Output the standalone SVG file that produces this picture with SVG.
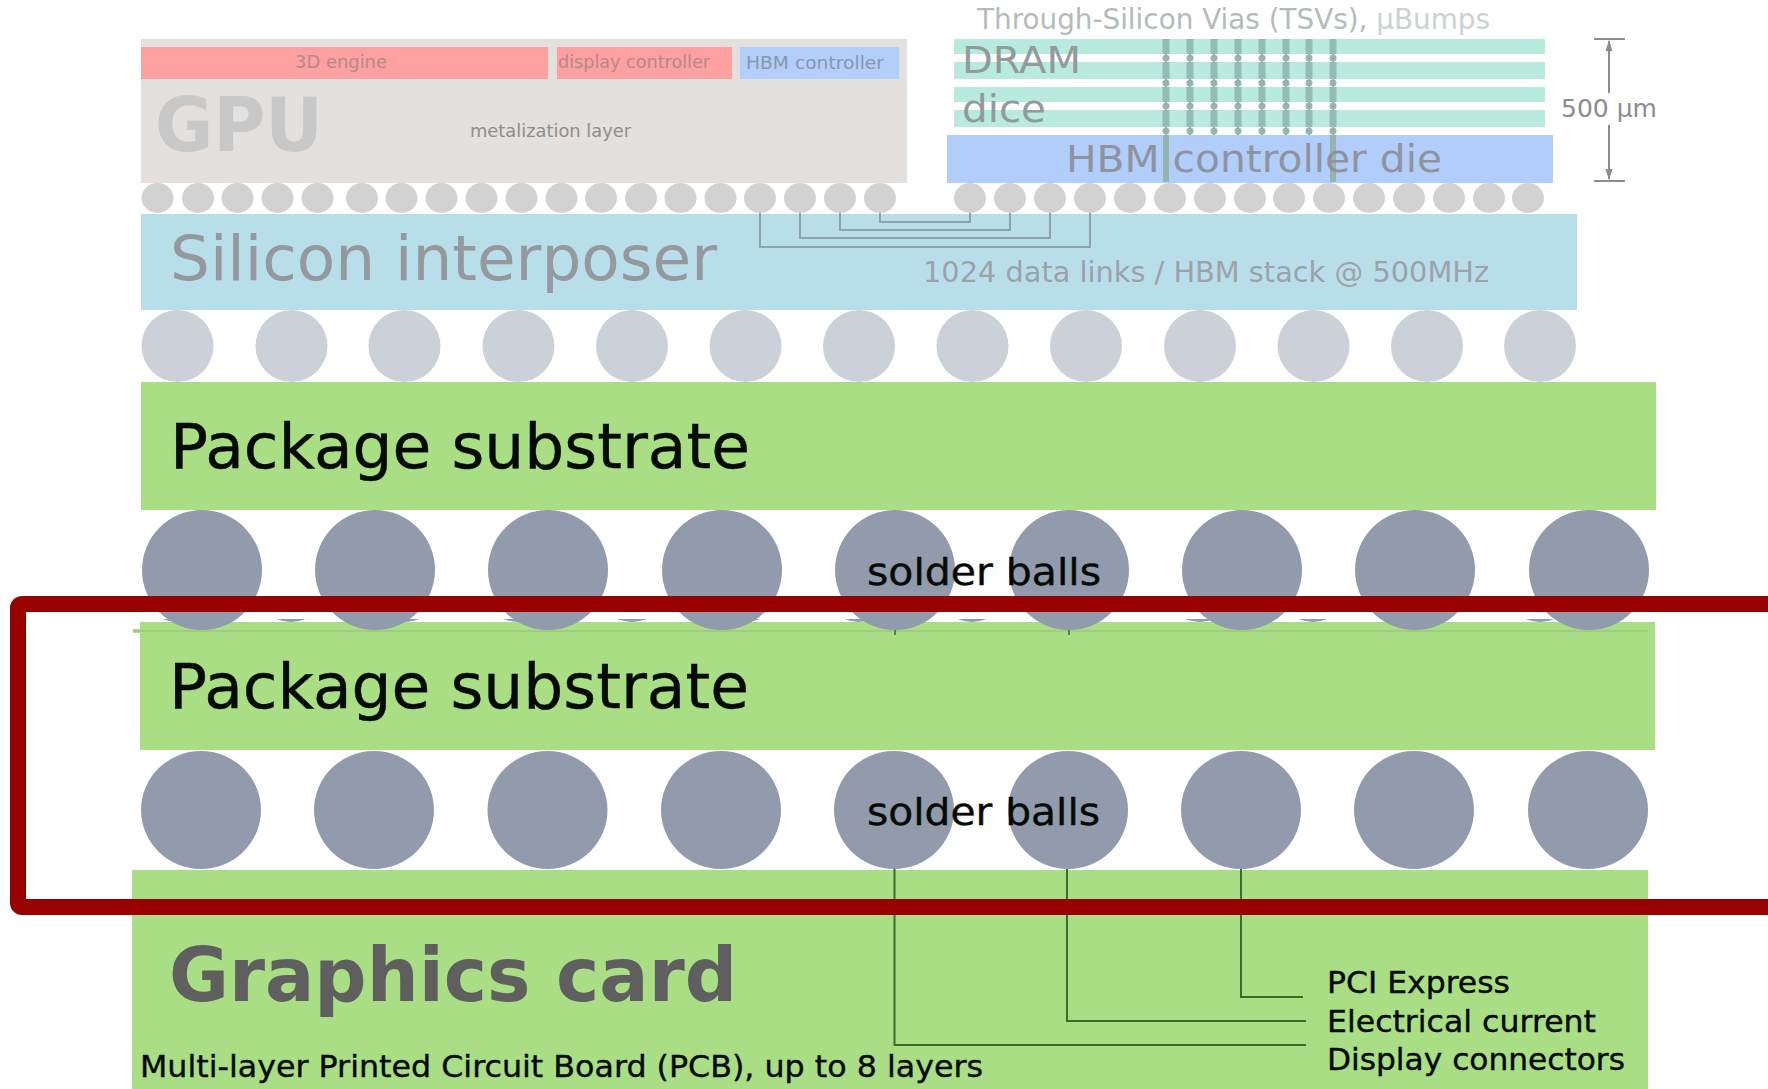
<svg xmlns="http://www.w3.org/2000/svg" xmlns:xlink="http://www.w3.org/1999/xlink" width="1768" height="1089" viewBox="0 0 1768 1089">
<style>
text{font-family:"DejaVu Sans","Liberation Sans",sans-serif;}
.sm{fill:#d2d2d2}.md{fill:#ccd0d8}.lg{fill:#919bac}.sl{fill:#919bac}
.grn{fill:#aade85}
.strip{fill:#b8eadd}
.w1{fill:none;stroke:#8fa3ad;stroke-width:2}
.w2{fill:none;stroke:#3f6a2c;stroke-width:2}
.dim{fill:none;stroke:#8c8c8c;stroke-width:2}
.blk{fill:#050a05;stroke:#050a05;stroke-width:.4}
</style>
<defs>
<clipPath id="sliver"><rect x="130" y="619" width="1530" height="3"/></clipPath>
<g id="tsv-col">
<path d="M0 39V135" fill="none" stroke="#93bdb4" stroke-width="2"/>
<path d="M0 39V54M0 62V79M0 87V102M0 110V127" fill="none" stroke="#93bdb4" stroke-width="7"/>
<path d="M0 58h.01M0 83h.01M0 106h.01M0 131h.01" fill="none" stroke="#93b5ae" stroke-width="7" stroke-linecap="round"/>
</g>
</defs>
<rect width="1768" height="1089" fill="#fff"/>

<g id="gpu">
<rect x="141" y="39" width="766" height="144" fill="#e4e0dd"/>
<rect x="141" y="47" width="407" height="32" fill="#fea0a0"/>
<rect x="557" y="47" width="175" height="32" fill="#fea0a0"/>
<rect x="740" y="47" width="159" height="32" fill="#b1cffa"/>
<text x="295" y="68" font-size="18" fill="#b28a8c" textLength="92" lengthAdjust="spacingAndGlyphs">3D engine</text>
<text x="558" y="68" font-size="18" fill="#b28a8c" textLength="152" lengthAdjust="spacingAndGlyphs">display controller</text>
<text x="746" y="69" font-size="18" fill="#8a96ac" textLength="138" lengthAdjust="spacingAndGlyphs">HBM controller</text>
<text x="155" y="151" font-size="75" font-weight="bold" fill="#c8c8c8" textLength="168" lengthAdjust="spacingAndGlyphs">GPU</text>
<text x="470" y="137" font-size="18" fill="#8e8e8e" textLength="161" lengthAdjust="spacingAndGlyphs">metalization layer</text>
</g>

<g id="microbumps">
<ellipse class="sm" cx="157.500" cy="198" rx="16" ry="15"/><ellipse class="sm" cx="198" cy="198" rx="16" ry="15"/><ellipse class="sm" cx="237.500" cy="198" rx="16" ry="15"/><ellipse class="sm" cx="277.500" cy="198" rx="16" ry="15"/><ellipse class="sm" cx="317.500" cy="198" rx="16" ry="15"/><ellipse class="sm" cx="362" cy="198" rx="16" ry="15"/><ellipse class="sm" cx="401.500" cy="198" rx="16" ry="15"/><ellipse class="sm" cx="441.500" cy="198" rx="16" ry="15"/><ellipse class="sm" cx="481.500" cy="198" rx="16" ry="15"/><ellipse class="sm" cx="521.500" cy="198" rx="16" ry="15"/><ellipse class="sm" cx="561.500" cy="198" rx="16" ry="15"/><ellipse class="sm" cx="601" cy="198" rx="16" ry="15"/><ellipse class="sm" cx="641" cy="198" rx="16" ry="15"/><ellipse class="sm" cx="680.500" cy="198" rx="16" ry="15"/><ellipse class="sm" cx="720.500" cy="198" rx="16" ry="15"/><ellipse class="sm" cx="760" cy="198" rx="16" ry="15"/><ellipse class="sm" cx="800" cy="198" rx="16" ry="15"/><ellipse class="sm" cx="840" cy="198" rx="16" ry="15"/><ellipse class="sm" cx="880" cy="198" rx="16" ry="15"/>
<ellipse class="sm" cx="970" cy="198" rx="16" ry="15"/><ellipse class="sm" cx="1010" cy="198" rx="16" ry="15"/><ellipse class="sm" cx="1050" cy="198" rx="16" ry="15"/><ellipse class="sm" cx="1090" cy="198" rx="16" ry="15"/><ellipse class="sm" cx="1130" cy="198" rx="16" ry="15"/><ellipse class="sm" cx="1170" cy="198" rx="16" ry="15"/><ellipse class="sm" cx="1210" cy="198" rx="16" ry="15"/><ellipse class="sm" cx="1250" cy="198" rx="16" ry="15"/><ellipse class="sm" cx="1289" cy="198" rx="16" ry="15"/><ellipse class="sm" cx="1329" cy="198" rx="16" ry="15"/><ellipse class="sm" cx="1369" cy="198" rx="16" ry="15"/><ellipse class="sm" cx="1409" cy="198" rx="16" ry="15"/><ellipse class="sm" cx="1449" cy="198" rx="16" ry="15"/><ellipse class="sm" cx="1489" cy="198" rx="16" ry="15"/><ellipse class="sm" cx="1528" cy="198" rx="16" ry="15"/>
</g>

<g id="hbm-stack">
<rect class="strip" x="954" y="39" width="591" height="15"/>
<rect class="strip" x="954" y="62" width="591" height="17"/>
<rect class="strip" x="954" y="87" width="591" height="15"/>
<rect class="strip" x="954" y="110" width="591" height="17"/>
<rect x="947" y="135" width="606" height="48" fill="#b1cdfa"/>
<use xlink:href="#tsv-col" x="1166"/><use xlink:href="#tsv-col" x="1190"/><use xlink:href="#tsv-col" x="1214"/><use xlink:href="#tsv-col" x="1238"/><use xlink:href="#tsv-col" x="1262"/><use xlink:href="#tsv-col" x="1286"/><use xlink:href="#tsv-col" x="1309"/><use xlink:href="#tsv-col" x="1333"/>
<path d="M1166 135V182M1333 135V182" fill="none" stroke="#93b5ae" stroke-width="6"/>
<text x="977" y="29" font-size="28" fill="#b4bcb8" textLength="513" lengthAdjust="spacingAndGlyphs">Through-Silicon Vias (TSVs), <tspan fill="#ccd2d0">µBumps</tspan></text>
<text x="962" y="73" font-size="37" fill="#8f9c9a" textLength="119" lengthAdjust="spacingAndGlyphs">DRAM</text>
<text x="962" y="122" font-size="37" fill="#8f9c9a" textLength="84" lengthAdjust="spacingAndGlyphs">dice</text>
<text x="1066" y="172" font-size="37" fill="#8f93a0" textLength="376" lengthAdjust="spacingAndGlyphs">HBM controller die</text>
</g>

<g id="dimension">
<path class="dim" d="M1594 39H1625M1594 181H1625M1609 41V93M1609 125V179"/>
<path d="M1609 40l-3.500 11h7zM1609 180l-3.500-11h7z" fill="#8c8c8c"/>
<text x="1561" y="117" font-size="24" fill="#8c8c8c" textLength="96" lengthAdjust="spacingAndGlyphs">500 µm</text>
</g>

<g id="interposer">
<rect x="141" y="214" width="1436" height="96" fill="#b8deea"/>
<text x="170" y="280" font-size="62" fill="#95989c" textLength="547" lengthAdjust="spacingAndGlyphs">Silicon interposer</text>
<text x="923" y="282" font-size="28" fill="#9ba3a8" textLength="566" lengthAdjust="spacingAndGlyphs">1024 data links / HBM stack @ 500MHz</text>
</g>

<g id="c4-bumps">
<ellipse class="md" cx="177.500" cy="346" rx="36" ry="36"/><ellipse class="md" cx="291.500" cy="346" rx="36" ry="36"/><ellipse class="md" cx="404.500" cy="346" rx="36" ry="36"/><ellipse class="md" cx="518.500" cy="346" rx="36" ry="36"/><ellipse class="md" cx="632" cy="346" rx="36" ry="36"/><ellipse class="md" cx="745.500" cy="346" rx="36" ry="36"/><ellipse class="md" cx="859" cy="346" rx="36" ry="36"/><ellipse class="md" cx="972.500" cy="346" rx="36" ry="36"/><ellipse class="md" cx="1086" cy="346" rx="36" ry="36"/><ellipse class="md" cx="1200" cy="346" rx="36" ry="36"/><ellipse class="md" cx="1313.500" cy="346" rx="36" ry="36"/><ellipse class="md" cx="1427" cy="346" rx="36" ry="36"/><ellipse class="md" cx="1540" cy="346" rx="36" ry="36"/>
</g>

<g id="package-substrate-1">
<rect class="grn" x="141" y="382" width="1515" height="128"/>
<text class="blk" x="170" y="468" font-size="62" textLength="580" lengthAdjust="spacingAndGlyphs">Package substrate</text>
</g>

<g id="slivers" clip-path="url(#sliver)">
<ellipse class="sl" cx="177" cy="586" rx="36" ry="36"/><ellipse class="sl" cx="291" cy="586" rx="36" ry="36"/><ellipse class="sl" cx="405" cy="586" rx="36" ry="36"/><ellipse class="sl" cx="518" cy="586" rx="36" ry="36"/><ellipse class="sl" cx="632" cy="586" rx="36" ry="36"/><ellipse class="sl" cx="745" cy="586" rx="36" ry="36"/><ellipse class="sl" cx="859" cy="586" rx="36" ry="36"/><ellipse class="sl" cx="972" cy="586" rx="36" ry="36"/><ellipse class="sl" cx="1086" cy="586" rx="36" ry="36"/><ellipse class="sl" cx="1200" cy="586" rx="36" ry="36"/><ellipse class="sl" cx="1313" cy="586" rx="36" ry="36"/><ellipse class="sl" cx="1426" cy="586" rx="36" ry="36"/><ellipse class="sl" cx="1540" cy="586" rx="36" ry="36"/>
</g>

<g id="package-substrate-2">
<rect class="grn" x="140" y="622" width="1515" height="128"/>
<rect class="grn" x="133" y="629" width="1515" height="4"/>
<path d="M133 631H1648" fill="none" stroke="#96ba7a" stroke-width="1"/>
<path d="M895 628V635M1069 628V635" fill="none" stroke="#3f6a2c" stroke-width="1.500"/>
<text class="blk" x="169" y="708" font-size="62" textLength="580" lengthAdjust="spacingAndGlyphs">Package substrate</text>
</g>

<g id="solder-balls-1">
<circle class="lg" cx="202" cy="570" r="60"/><circle class="lg" cx="375" cy="570" r="60"/><circle class="lg" cx="548" cy="570" r="60"/><circle class="lg" cx="722" cy="570" r="60"/><circle class="lg" cx="895" cy="570" r="60"/><circle class="lg" cx="1069" cy="570" r="60"/><circle class="lg" cx="1242" cy="570" r="60"/><circle class="lg" cx="1415" cy="570" r="60"/><circle class="lg" cx="1589" cy="570" r="60"/>
<text class="blk" x="867" y="585" font-size="38" textLength="234" lengthAdjust="spacingAndGlyphs">solder balls</text>
</g>

<g id="pcb">
<rect class="grn" x="132" y="870" width="1516" height="219"/>
<text x="169" y="1001" font-size="75" font-weight="bold" fill="#5f5f5f" textLength="568" lengthAdjust="spacingAndGlyphs">Graphics card</text>
<text class="blk" x="140" y="1077" font-size="30" textLength="843" lengthAdjust="spacingAndGlyphs">Multi-layer Printed Circuit Board (PCB), up to 8 layers</text>
<text class="blk" x="1327" y="993" font-size="30" textLength="183" lengthAdjust="spacingAndGlyphs">PCI Express</text>
<text class="blk" x="1327" y="1032" font-size="30" textLength="269" lengthAdjust="spacingAndGlyphs">Electrical current</text>
<text class="blk" x="1327" y="1070" font-size="30" textLength="298" lengthAdjust="spacingAndGlyphs">Display connectors</text>
</g>

<g id="solder-balls-2">
<ellipse class="lg" cx="201" cy="810" rx="60" ry="59"/><ellipse class="lg" cx="374" cy="810" rx="60" ry="59"/><ellipse class="lg" cx="547.500" cy="810" rx="60" ry="59"/><ellipse class="lg" cx="721" cy="810" rx="60" ry="59"/><ellipse class="lg" cx="894" cy="810" rx="60" ry="59"/><ellipse class="lg" cx="1068" cy="810" rx="60" ry="59"/><ellipse class="lg" cx="1241" cy="810" rx="60" ry="59"/><ellipse class="lg" cx="1414" cy="810" rx="60" ry="59"/><ellipse class="lg" cx="1588" cy="810" rx="60" ry="59"/>
<text class="blk" x="867" y="825" font-size="38" textLength="233" lengthAdjust="spacingAndGlyphs">solder balls</text>
</g>

<g id="connectors">
<path class="w1" d="M760 213V247H1090V213M800 213V238H1050V213M840 213V230H1010V213M880 213V222H970V213"/>
<path class="w2" d="M894.500 869V1045H1306M1067 869V1021H1306M1241 869V997H1303"/>
</g>

<g id="highlight-frame">
<rect x="18" y="604" width="1800" height="303" rx="4" fill="none" stroke="#990000" stroke-width="16"/>
</g>
</svg>
